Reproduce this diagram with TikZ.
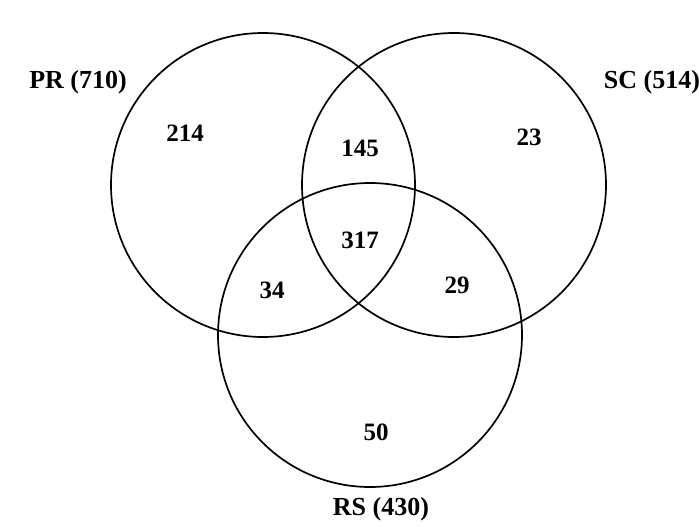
\documentclass[tikz,border=0pt]{standalone}
\usepackage{fontspec}
\setmainfont{Liberation Serif}
\begin{document}
\begin{tikzpicture}[x=1pt,y=-1pt,line width=1.7pt]
\useasboundingbox (0,0) rectangle (699,527);
\draw (263,185) circle (152);
\draw (454,185) circle (152);
\draw (370,335) circle (152);

\foreach \x/\y/\name/\lab in {
185/133/pr/{214},
360/148/prsc/{145},
529/137/sc/{23},
360/240/all/{317},
272/290/prrs/{34},
457/285/scrs/{29},
376/432/rs/{50}}
{
    \node[font=\fontsize{25}{28}\selectfont\bfseries] (n\name) at (\x,\y) {\lab};
}

\node[font=\fontsize{26}{29}\selectfont\bfseries] (lpr) at (78,82) {PR (710)};
\node[font=\fontsize{26}{29}\selectfont\bfseries] (lsc) at (652,82) {SC (514)};
\node[font=\fontsize{26}{29}\selectfont\bfseries] (lrs) at (381,509) {RS (430)};
\end{tikzpicture}
\end{document}
